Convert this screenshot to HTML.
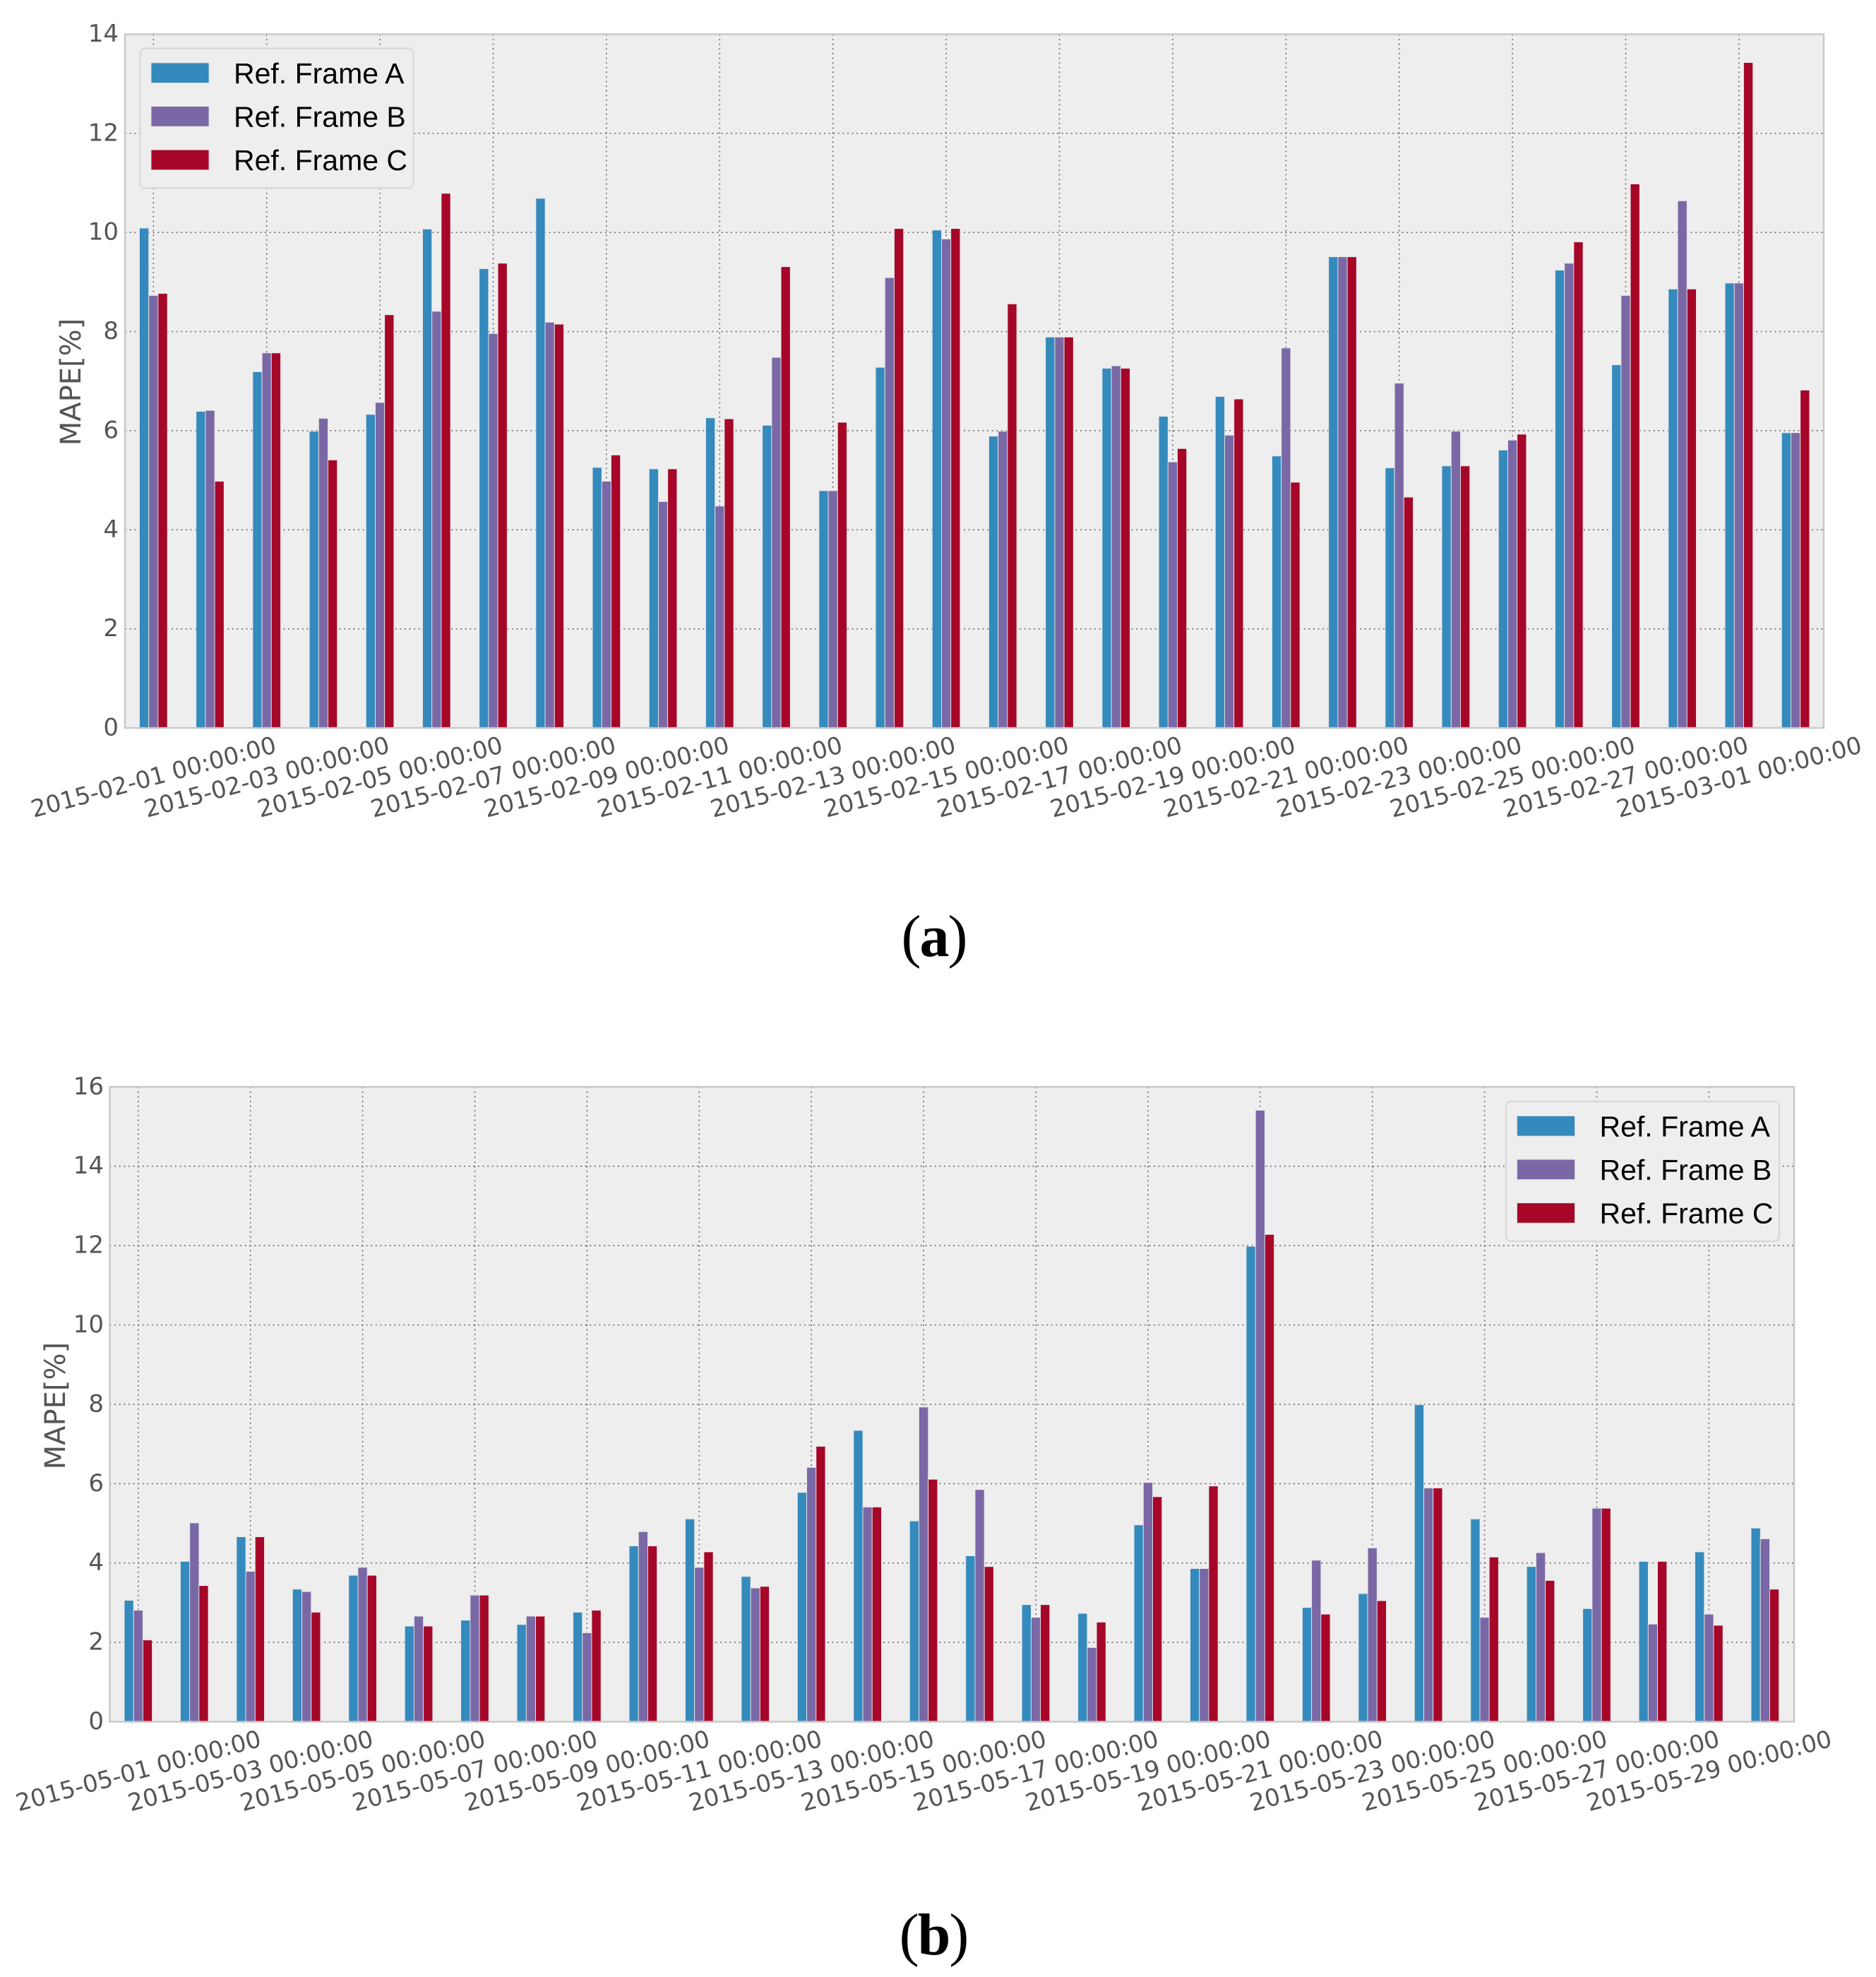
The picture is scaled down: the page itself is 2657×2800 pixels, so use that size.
<!DOCTYPE html>
<html lang="en">
<head>
<meta charset="utf-8">
<title>MAPE per reference frame</title>
<style>
html,body{margin:0;padding:0;background:#fff;}
#figure{display:block;}
</style>
</head>
<body>
<svg id="figure" xmlns="http://www.w3.org/2000/svg" width="2657" height="2800" viewBox="0 0 2657 2800"></svg>
<script>
const yTicksTop = [0, 2, 4, 6, 8, 10, 12, 14];
const yTicksBottom = [0, 2, 4, 6, 8, 10, 12, 14, 16];
const seriesNames = ['Ref. Frame A', 'Ref. Frame B', 'Ref. Frame C'];

const xLabelsTop = ['2015-02-01 00:00:00','2015-02-03 00:00:00','2015-02-05 00:00:00','2015-02-07 00:00:00','2015-02-09 00:00:00','2015-02-11 00:00:00','2015-02-13 00:00:00','2015-02-15 00:00:00','2015-02-17 00:00:00','2015-02-19 00:00:00','2015-02-21 00:00:00','2015-02-23 00:00:00','2015-02-25 00:00:00','2015-02-27 00:00:00','2015-03-01 00:00:00'];
const topFrameA = [10.08,6.38,7.18,5.98,6.32,10.06,9.26,10.68,5.25,5.22,6.25,6.10,4.78,7.27,10.04,5.88,7.88,7.25,6.28,6.68,5.48,9.50,5.24,5.28,5.60,9.23,7.32,8.85,8.97,5.95];
const topFrameB = [8.72,6.40,7.56,6.24,6.56,8.40,7.95,8.18,4.97,4.56,4.47,7.47,4.78,9.08,9.86,5.98,7.88,7.30,5.36,5.90,7.66,9.50,6.95,5.98,5.80,9.37,8.72,10.63,8.97,5.95];
const topFrameC = [8.76,4.97,7.56,5.40,8.33,10.78,9.37,8.14,5.50,5.22,6.23,9.30,6.16,10.07,10.07,8.55,7.88,7.25,5.63,6.63,4.95,9.50,4.65,5.28,5.92,9.80,10.97,8.85,13.42,6.81];

const xLabelsBottom = ['2015-05-01 00:00:00','2015-05-03 00:00:00','2015-05-05 00:00:00','2015-05-07 00:00:00','2015-05-09 00:00:00','2015-05-11 00:00:00','2015-05-13 00:00:00','2015-05-15 00:00:00','2015-05-17 00:00:00','2015-05-19 00:00:00','2015-05-21 00:00:00','2015-05-23 00:00:00','2015-05-25 00:00:00','2015-05-27 00:00:00','2015-05-29 00:00:00'];
const bottomFrameA = [3.05,4.03,4.65,3.33,3.68,2.40,2.55,2.44,2.75,4.42,5.10,3.65,5.77,7.33,5.05,4.17,2.94,2.72,4.95,3.85,11.97,2.87,3.22,7.98,5.10,3.90,2.84,4.03,4.27,4.87];
const bottomFrameB = [2.80,5.00,3.78,3.27,3.88,2.65,3.18,2.65,2.23,4.78,3.88,3.36,6.40,5.40,7.92,5.84,2.62,1.86,6.02,3.85,15.40,4.06,4.37,5.88,2.62,4.25,5.37,2.45,2.70,4.60];
const bottomFrameC = [2.05,3.42,4.65,2.75,3.68,2.40,3.18,2.65,2.80,4.42,4.27,3.40,6.93,5.40,6.10,3.90,2.94,2.50,5.66,5.93,12.27,2.70,3.04,5.88,4.14,3.55,5.37,4.03,2.42,3.33];

const seriesColors = ['#348ABD', '#7A68A6', '#A60628'];
const NS = 'http://www.w3.org/2000/svg';
const root = document.getElementById('figure');

function make(parent, tag, attrs, text) {
  const el = document.createElementNS(NS, tag);
  for (const k in attrs) el.setAttribute(k, attrs[k]);
  if (text !== undefined) el.textContent = text;
  parent.appendChild(el);
  return el;
}

function drawChart(cfg) {
  const xAt = i => cfg.firstX + cfg.groupStep * i;
  const yAt = v => cfg.zeroY - cfg.unitY * v;
  const left = cfg.left, right = cfg.right, top = yAt(cfg.yTicks[cfg.yTicks.length - 1]), bottom = cfg.zeroY;

  const g = make(root, 'g', {});
  
  

  const bg = make(g, 'rect', {x: left, y: top, width: right - left, height: bottom - top, fill: '#eeeeee'});
  
  

  cfg.yTicks.forEach(t => {
    const line = make(g, 'line', {x1: left, x2: right, y1: yAt(t), y2: yAt(t), stroke: t === 0 ? '#bcbcbc' : '#6a6a6a', 'stroke-width': t === 0 ? 2 : 1.6, 'stroke-dasharray': t === 0 ? '10 10' : '2 4.6'});
    
    
    const label = make(g, 'text', {x: cfg.tickRight, y: yAt(t) + 10.5, 'text-anchor': 'end', 'font-size': 34, fill: '#555555', 'font-family': '"DejaVu Sans", sans-serif'}, String(t));
    
    
  });

  cfg.xLabels.forEach((txt, k) => {
    const x = xAt(k * 2);
    const cy = bottom + 81;
    const line = make(g, 'line', {x1: x, x2: x, y1: top, y2: bottom, stroke: '#6a6a6a', 'stroke-width': 1.6, 'stroke-dasharray': '2 4.6'});
    
    
    const label = make(g, 'text', {x: x, y: cy, 'text-anchor': 'middle', 'font-size': 33.7, fill: '#555555', 'font-family': '"DejaVu Sans", sans-serif', transform: 'rotate(-15 ' + x + ' ' + (cy - 12) + ')'}, txt);
    
    
  });

  cfg.series.forEach((values, s) => {
    values.forEach((v, i) => {
      const barTop = yAt(v) - 0.6;
      const bar = make(g, 'rect', {x: xAt(i) + (s - 1.5) * 13.2, y: barTop, width: 13.2, height: bottom - barTop + 1, fill: seriesColors[s], stroke: '#e6e6e6', 'stroke-width': 0.9});
      
      
    });
  });

  const frame = make(g, 'rect', {x: left, y: top, width: right - left, height: bottom - top, fill: 'none', stroke: '#c8c8c8', 'stroke-width': 2.4});
  
  

  const title = make(g, 'text', {x: cfg.titleX, y: cfg.titleY, 'text-anchor': 'middle', 'font-size': 40, fill: '#555555', 'font-family': '"DejaVu Sans", sans-serif', transform: 'rotate(-90 ' + cfg.titleX + ' ' + cfg.titleY + ')'}, 'MAPE[%]');
  
  

  const lg = make(g, 'g', {});
  
  
  const box = make(lg, 'rect', {x: cfg.legend.x, y: cfg.legend.y, width: 387, height: 198, rx: 7, fill: '#eeeeee', stroke: '#d6d6d6', 'stroke-width': 2});
  
  
  seriesNames.forEach((name, s) => {
    const rowY = cfg.legend.y + 20.5 + s * 61.6;
    const sw = make(lg, 'rect', {x: cfg.legend.x + 15.5, y: rowY, width: 82, height: 28.5, fill: seriesColors[s], stroke: '#dcdcdc', 'stroke-width': 0.9});
    
    
    const tx = make(lg, 'text', {x: cfg.legend.x + 132.5, y: rowY + 29, 'font-size': 41, fill: '#000000', 'font-family': '"Liberation Sans", Arial, sans-serif'}, name);
    
    
  });
}

drawChart({
  name: 'chart-a',
  firstX: 217.3, groupStep: 80.2, zeroY: 1031, unitY: 70.18,
  left: 177, right: 2583, tickRight: 168, titleX: 114, titleY: 541,
  yTicks: yTicksTop, xLabels: xLabelsTop,
  series: [topFrameA, topFrameB, topFrameC],
  legend: {x: 198.5, y: 68.5}
});
drawChart({
  name: 'chart-b',
  firstX: 195.8, groupStep: 79.45, zeroY: 2438.5, unitY: 56.2,
  left: 155.5, right: 2541, tickRight: 147, titleX: 92, titleY: 1991,
  yTicks: yTicksBottom, xLabels: xLabelsBottom,
  series: [bottomFrameA, bottomFrameB, bottomFrameC],
  legend: {x: 2133, y: 1560}
});
</script>
<svg style="position:absolute;left:0;top:0;" width="2657" height="2800" viewBox="0 0 2657 2800" xmlns="http://www.w3.org/2000/svg">
  <text x="1322.5" y="1354" text-anchor="middle" font-family="'Liberation Serif', serif" font-size="84" letter-spacing="-2" fill="#000">(<tspan font-weight="bold">a</tspan>)</text>
  <text x="1322" y="2768" text-anchor="middle" font-family="'Liberation Serif', serif" font-size="84" letter-spacing="-2" fill="#000">(<tspan font-weight="bold">b</tspan>)</text>
</svg>
</body>
</html>
